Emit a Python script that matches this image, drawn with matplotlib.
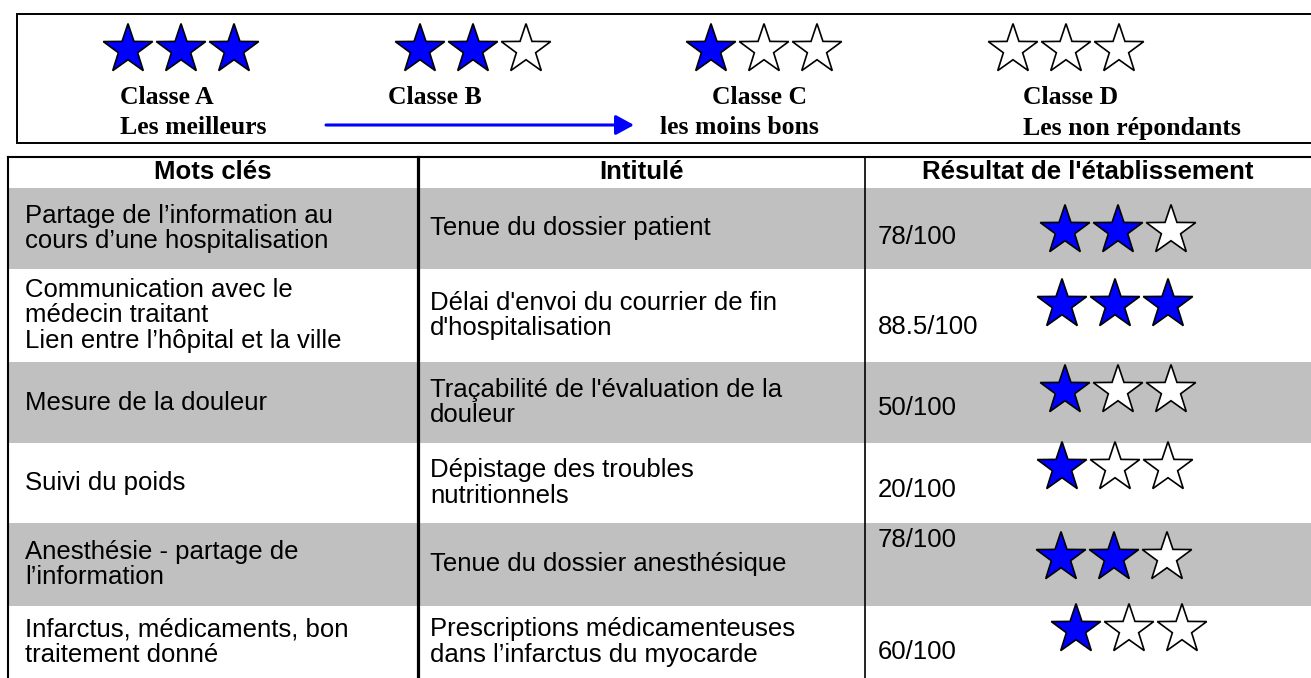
"""
Tableau des indicateurs de qualité : légende des classes (étoiles) et
résultats de l'établissement, redessinés avec matplotlib.
"""

import matplotlib.pyplot as plt
from matplotlib.patches import Polygon, Rectangle
import numpy as np

# --- données ---------------------------------------------------------------
classes = ['Classe A', 'Classe B', 'Classe C', 'Classe D']
class_notes = ['Les meilleurs', '', 'les moins bons', 'Les non répondants']
class_stars = [3, 2, 1, 0]

headers = ['Mots clés', 'Intitulé', "Résultat de l'établissement"]
mots_cles = [
    'Partage de l\u2019information au\ncours d\u2019une hospitalisation',
    'Communication avec le\nmédecin traitant\nLien entre l\u2019hôpital et la ville',
    'Mesure de la douleur',
    'Suivi du poids',
    'Anesthésie - partage de\nl\u2019information',
    'Infarctus, médicaments, bon\ntraitement donné',
]
intitules = [
    'Tenue du dossier patient',
    "Délai d'envoi du courrier de fin\nd'hospitalisation",
    "Traçabilité de l'évaluation de la\ndouleur",
    'Dépistage des troubles\nnutritionnels',
    'Tenue du dossier anesthésique',
    'Prescriptions médicamenteuses\ndans l\u2019infarctus du myocarde',
]
scores = ['78/100', '88.5/100', '50/100', '20/100', '78/100', '60/100']
score_stars = [2, 3, 1, 1, 2, 1]

# --- mise en page (pixels) -------------------------------------------------
W, H = 1311, 678
BLUE = '#0000FF'
GRAY = '#C0C0C0'
SANS = 'Liberation Sans'
SERIF = 'Liberation Serif'
FS = 18.5

row_edges = [188, 269, 362, 443, 523, 606, 678]
col_edges = [8, 418, 865, W]
score_y = [237, 327, 408, 490, 540, 652]
row_star_y = [228, 302, 388, 465, 555, 627]
row_star_x = [1065, 1062, 1065, 1062, 1061, 1076]
class_star_x = [128, 420, 711, 1013]
class_label_x = [120, 388, 712, 1023]
class_note_x = [120, 388, 660, 1023]
STAR_R = 26
STAR_STEP = 53


def star(ax, cx, cy, filled, r=STAR_R):
    ang = np.pi / 2 + np.arange(10) * np.pi / 5
    rad = np.where(np.arange(10) % 2 == 0, r, r * 0.39)
    pts = np.column_stack([cx + rad * np.cos(ang), cy - rad * np.sin(ang) + r * 0.1])
    ax.add_patch(Polygon(pts, closed=True, facecolor=BLUE if filled else 'white',
                         edgecolor='black', lw=1.2, zorder=5))


def star_row(ax, x0, cy, n_filled):
    for k in range(3):
        star(ax, x0 + k * STAR_STEP, cy, k < n_filled)


fig = plt.figure(figsize=(W / 100, H / 100), dpi=100)
ax = fig.add_axes([0, 0, 1, 1])
ax.set_xlim(0, W)
ax.set_ylim(H, 0)
ax.axis('off')

# légende des classes
ax.plot([W + 5, 17, 17, W + 5], [14, 14, 143, 143], color='black', lw=1.4,
        solid_joinstyle='miter', clip_on=False)
for i, name in enumerate(classes):
    star_row(ax, class_star_x[i], 47, class_stars[i])
    ax.text(class_label_x[i], 97, name, family=SERIF, weight='bold', fontsize=FS,
            ha='left', va='center')
    if class_notes[i]:
        ax.text(class_note_x[i], 128, class_notes[i], family=SERIF, weight='bold',
                fontsize=FS, ha='left', va='center')
ax.annotate('', xy=(634, 125), xytext=(326, 125),
            arrowprops=dict(arrowstyle='-|>,head_length=0.55,head_width=0.3',
                            color=BLUE, lw=2.2, mutation_scale=20, shrinkA=0, shrinkB=0))

# tableau
for i in range(len(mots_cles)):
    top, bot = row_edges[i], row_edges[i + 1]
    if i % 2 == 0:
        ax.add_patch(Rectangle((col_edges[0], top), W - col_edges[0], bot - top,
                               facecolor=GRAY, edgecolor='none', zorder=1))
    mid = (top + bot) / 2
    ax.text(col_edges[0] + 17, mid, mots_cles[i], family=SANS, fontsize=FS,
            ha='left', va='center', linespacing=1.1, zorder=3)
    ax.text(col_edges[1] + 12, mid, intitules[i], family=SANS, fontsize=FS,
            ha='left', va='center', linespacing=1.1, zorder=3)
    ax.text(col_edges[2] + 13, score_y[i], scores[i], family=SANS, fontsize=FS,
            ha='left', va='center', zorder=3)
    star_row(ax, row_star_x[i], row_star_y[i], score_stars[i])

for j, head in enumerate(headers):
    ax.text((col_edges[j] + col_edges[j + 1]) / 2, 172, head, family=SANS,
            weight='bold', fontsize=FS, ha='center', va='center')

ax.plot([col_edges[0], W + 5], [157, 157], color='black', lw=1.5, clip_on=False)
ax.plot([col_edges[0], col_edges[0]], [157, H + 5], color='black', lw=1.5, clip_on=False)
ax.plot([col_edges[1], col_edges[1]], [157, H + 5], color='black', lw=2.3, clip_on=False,
        zorder=4)
ax.plot([col_edges[2], col_edges[2]], [157, H + 5], color='black', lw=1.2, clip_on=False,
        zorder=4)

fig.savefig('out.png', dpi=100)
